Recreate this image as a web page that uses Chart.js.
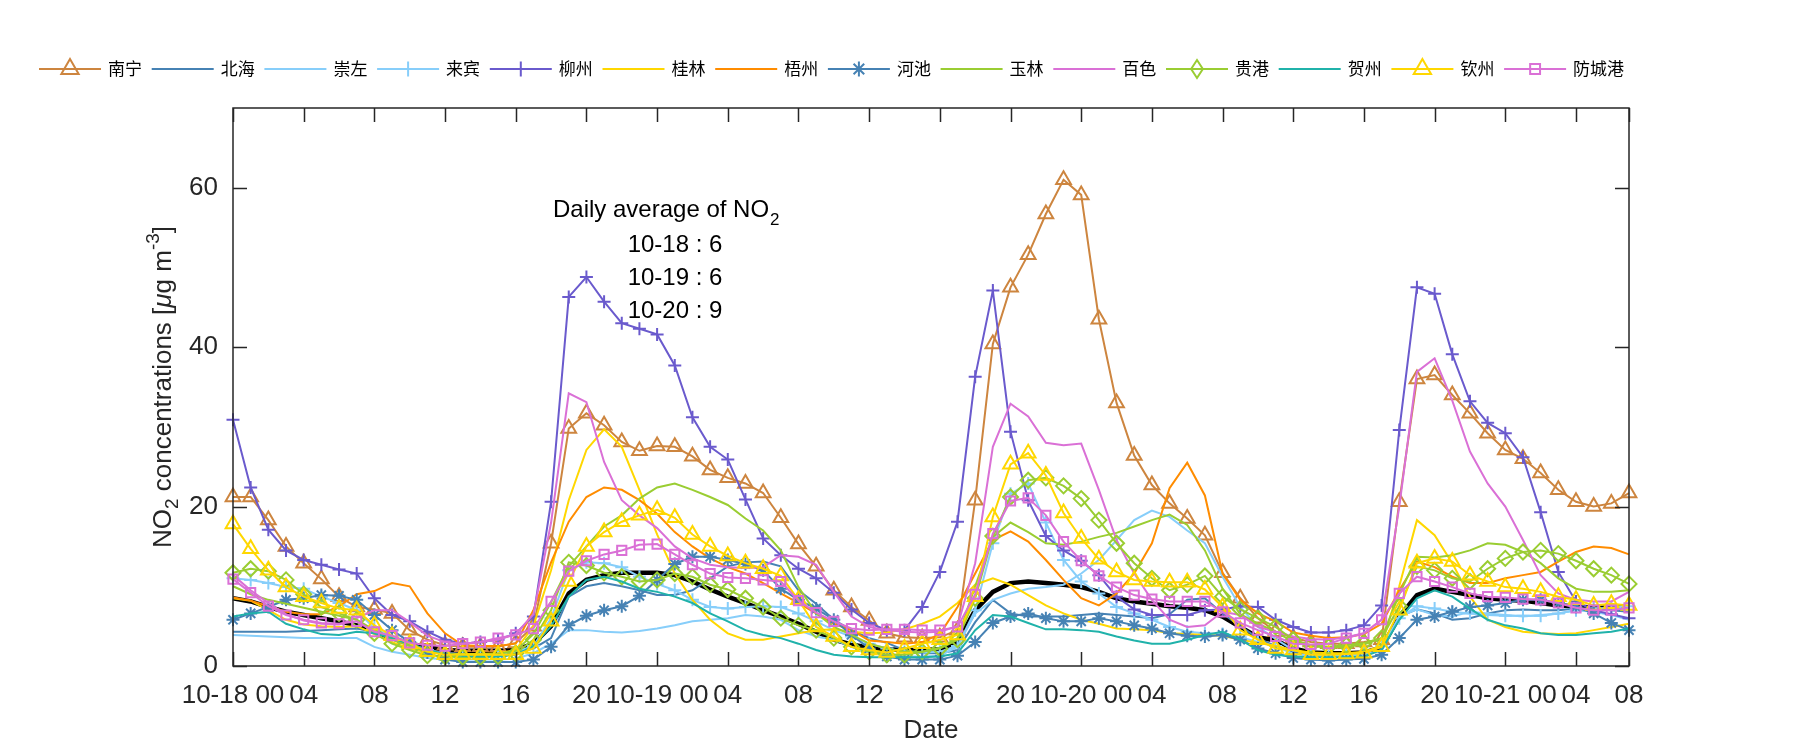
<!DOCTYPE html>
<html>
<head>
<meta charset="utf-8">
<script src="https://cdn.jsdelivr.net/npm/chart.js@4.4.1/dist/chart.umd.min.js"></script>
<style>
html,body{margin:0;padding:0;background:#ffffff;}
#wrap{width:1800px;height:750px;position:relative;}
</style>
</head>
<body>
<div id="wrap"><canvas id="c" width="1800" height="750"></canvas></div>
<script>
// ---------- data ----------
const hours = [0,1,2,3,4,5,6,7,8,9,10,11,12,13,14,15,16,17,18,19,20,21,22,23,24,25,26,27,28,29,30,31,32,33,34,35,36,37,38,39,40,41,42,43,44,45,46,47,48,49,50,51,52,53,54,55,56,57,58,59,60,61,62,63,64,65,66,67,68,69,70,71,72,73,74,75,76,77,78,79];
const tickHours = [0,4,8,12,16,20,24,28,32,36,40,44,48,52,56,60,64,68,72,76,79];
const tickLabels = ['10-18 00','04','08','12','16','20','10-19 00','04','08','12','16','20','10-20 00','04','08','12','16','20','10-21 00','04','08'];
const yTicks = [0,20,40,60];
const cityNames = ['南宁','北海','崇左','来宾','柳州','桂林','梧州','河池','玉林','百色','贵港','贺州','钦州','防城港'];

const nanning = [21.2,21.2,18.3,15.0,12.9,10.9,8.7,7.4,7.1,6.6,4.5,3.3,2.6,2.4,2.4,2.4,2.9,5.0,15.4,29.8,31.7,30.2,28.1,27.0,27.6,27.5,26.3,24.6,23.6,22.9,21.7,18.6,15.3,12.5,9.5,7.4,5.7,4.1,3.6,3.5,3.6,4.5,20.8,40.4,47.5,51.6,56.7,61.0,59.1,43.5,33.0,26.4,22.7,20.4,18.5,16.4,11.7,8.5,6.0,4.3,3.5,3.0,2.8,2.8,3.0,3.3,20.6,36.0,36.5,34.0,31.7,29.2,27.1,26.0,24.2,22.1,20.6,20.0,20.4,21.7];
const beihai = [4.3,4.3,4.3,4.3,4.4,4.5,4.6,4.7,4.3,3.5,2.6,2.0,1.6,1.5,1.5,1.5,1.7,2.2,3.5,8.7,10.0,10.4,10.0,9.5,8.9,8.9,9.5,11.0,12.5,13.0,13.1,12.5,9.5,7.8,5.8,4.5,3.5,2.9,2.0,1.6,1.6,2.0,5.5,8.3,6.6,6.2,6.2,6.2,6.4,6.6,6.4,6.2,6.0,6.5,8.3,8.5,6.6,5.0,3.5,2.5,1.8,1.5,1.5,1.5,1.7,2.5,6.2,7.1,6.6,5.8,6.0,6.6,7.0,7.1,7.0,7.0,7.2,7.2,7.0,6.8];
const chongzuo = [3.9,3.8,3.7,3.6,3.5,3.5,3.5,3.5,2.4,1.8,1.4,1.0,0.8,0.8,0.8,0.8,0.9,1.6,2.8,4.5,4.5,4.3,4.2,4.4,4.7,5.1,5.6,5.8,6.0,6.4,6.2,5.8,4.5,3.7,3.3,2.4,1.7,1.3,1.2,1.2,1.3,2.4,6.6,8.3,9.1,9.7,9.9,10.2,11.6,13.3,15.8,18.3,19.5,18.7,17.0,15.4,11.2,7.4,4.9,3.4,2.0,1.5,1.3,1.3,1.4,2.0,6.2,7.1,6.4,6.2,6.8,6.6,6.4,6.2,6.4,6.6,7.0,6.8,6.4,5.8];
const laibin = [11.0,10.8,10.4,9.9,9.7,8.7,7.9,7.0,4.7,3.7,2.8,2.0,1.5,1.4,1.4,1.5,1.8,2.5,6.0,12.0,13.0,12.9,12.4,11.2,10.3,9.5,8.3,7.4,7.2,7.4,7.5,7.4,6.6,5.6,4.5,3.7,2.8,2.2,1.8,1.7,1.8,2.5,7.0,15.4,21.6,22.9,18.0,13.3,10.6,9.1,7.4,6.6,5.8,4.9,4.3,4.1,4.0,3.6,3.0,2.5,1.5,1.3,1.3,1.4,1.6,2.5,6.0,7.5,7.2,6.8,6.6,6.4,6.3,6.3,6.3,6.6,7.0,7.2,7.3,7.5];
const liuzhou = [30.9,22.4,17.1,14.5,13.3,12.7,12.1,11.6,8.5,6.4,5.6,4.3,3.3,2.8,3.0,3.3,4.1,6.2,20.6,46.3,48.8,45.7,43.0,42.3,41.6,37.7,31.2,27.5,25.9,20.9,16.0,13.9,12.2,11.0,9.2,7.1,5.4,4.5,4.5,7.4,11.8,18.1,36.3,47.1,29.4,20.8,16.3,14.5,13.2,11.4,8.7,7.1,6.4,6.4,6.4,7.0,7.1,7.5,7.4,5.8,4.9,4.2,4.2,4.5,5.1,7.6,29.6,47.5,46.7,39.1,33.2,30.5,29.2,26.2,19.3,11.8,8.1,7.0,6.5,6.0];
const guilin = [8.5,8.2,7.0,5.8,5.2,5.0,4.9,5.0,4.0,3.0,2.2,1.7,1.5,1.5,1.5,1.6,2.0,5.0,12.0,20.8,27.1,29.7,27.5,22.1,16.5,11.6,8.3,5.8,4.1,3.3,3.3,3.7,4.1,4.5,4.6,4.3,4.1,4.2,4.6,5.3,6.2,7.9,10.2,11.0,10.2,8.9,7.6,6.6,5.8,5.3,4.7,4.6,4.5,4.1,4.0,3.9,3.8,3.3,2.9,2.5,2.0,1.7,1.6,1.6,1.8,2.5,10.0,18.3,16.4,12.9,8.7,5.8,4.9,4.3,4.1,4.0,4.1,4.5,4.9,5.3];
const wuzhou = [8.6,8.2,7.5,6.8,6.5,6.5,7.5,9.0,9.4,10.4,10.0,6.6,4.1,2.6,2.5,2.5,2.8,7.0,13.0,18.1,21.2,22.4,22.1,20.8,19.1,16.8,15.0,13.5,12.4,11.6,10.4,9.1,7.9,6.6,5.3,4.5,3.2,3.0,2.8,3.0,4.0,7.4,11.6,15.8,16.9,15.6,13.3,10.8,8.5,7.6,9.1,11.6,15.4,22.3,25.5,21.4,11.6,8.3,6.6,5.6,4.2,3.8,3.5,3.6,4.0,5.3,9.5,13.1,12.4,11.2,10.4,10.4,11.0,11.4,11.8,13.1,14.3,15.0,14.8,14.0];
const hechi = [5.8,6.6,7.4,8.3,8.5,8.9,8.8,8.3,6.4,4.5,3.0,1.7,0.8,0.5,0.5,0.5,0.5,0.8,2.4,5.1,6.3,7.0,7.5,8.8,10.8,12.8,13.7,13.7,13.3,12.8,12.0,9.7,8.3,7.2,5.8,3.9,2.2,1.2,0.8,0.8,0.8,1.3,3.0,5.4,6.2,6.6,6.0,5.6,5.6,6.0,5.6,5.1,4.7,4.1,3.8,3.7,3.9,3.3,2.2,1.6,1.0,0.8,0.7,0.8,0.9,1.4,3.5,5.8,6.2,6.8,7.4,7.6,7.9,8.3,8.3,7.9,7.4,6.6,5.4,4.5];
const yulin = [10.0,9.0,8.3,7.8,7.3,6.8,6.3,5.8,4.5,3.3,2.5,1.8,1.5,1.4,1.4,1.5,1.9,4.0,8.0,12.5,15.0,17.5,18.9,21.0,22.4,22.9,22.1,21.2,20.2,18.5,17.0,14.5,9.9,6.6,4.9,3.9,2.8,2.2,1.8,1.8,2.3,3.5,10.0,16.2,18.0,16.8,15.4,15.2,15.6,16.2,16.7,17.5,18.3,19.0,17.7,14.5,9.7,6.5,5.3,4.3,3.0,2.5,2.3,2.4,2.7,3.5,9.0,13.7,13.6,13.9,14.5,15.4,15.2,14.3,12.9,11.0,9.7,9.3,9.3,9.5];
const baise = [11.4,9.5,7.9,6.5,5.7,5.3,5.2,6.0,7.0,7.0,5.5,3.8,3.0,2.8,3.0,3.3,4.0,6.5,18.0,34.2,33.1,25.6,20.8,18.9,17.3,15.0,13.5,12.7,12.4,12.3,12.4,13.9,13.7,12.7,9.3,6.2,4.9,4.5,4.3,4.2,4.3,5.0,12.9,27.5,32.9,31.3,28.0,27.7,27.9,22.1,15.8,11.6,8.3,5.8,4.9,5.1,6.8,6.4,4.9,4.3,3.7,3.4,3.3,3.6,4.1,5.8,20.0,36.9,38.6,33.3,26.9,22.9,20.0,15.8,11.4,9.1,8.3,8.1,8.1,9.3];
const guigang = [11.7,12.2,11.9,10.8,9.0,7.4,6.6,5.8,4.1,2.8,2.0,1.3,1.2,1.1,1.1,1.2,1.6,3.3,7.0,13.0,12.6,11.7,11.2,10.6,10.8,11.6,11.2,10.2,9.6,8.5,7.4,6.0,5.1,4.5,3.5,2.4,1.8,1.4,1.4,1.8,2.2,3.3,8.5,16.3,21.2,23.3,23.6,22.6,21.0,18.3,15.4,12.9,11.0,9.5,10.2,11.3,8.7,7.1,6.0,4.9,3.3,2.6,2.4,2.6,2.9,3.5,7.5,12.5,12.0,11.0,10.6,12.2,13.5,14.3,14.5,14.1,13.2,12.2,11.4,10.3];
const hezhou = [6.2,6.6,6.8,5.3,4.6,4.0,3.9,4.3,4.1,3.5,2.8,2.0,1.5,1.3,1.2,1.2,1.4,2.5,5.0,8.7,10.8,11.2,10.6,9.7,9.3,8.7,7.9,6.6,5.6,4.5,3.9,3.5,2.8,2.0,1.4,1.2,1.1,1.1,1.1,1.1,1.2,1.6,4.5,6.4,6.2,5.4,4.6,4.6,4.5,4.3,3.7,3.2,2.8,2.8,3.3,3.9,4.3,3.3,2.0,1.4,1.2,1.1,1.1,1.1,1.2,2.0,5.8,8.5,9.5,8.7,7.2,5.8,5.1,4.7,4.1,3.9,3.9,4.1,4.3,4.7];
const qinzhou = [17.8,14.7,12.0,9.9,8.7,7.9,7.2,7.0,5.1,3.8,2.8,1.8,1.4,1.4,1.4,1.4,1.4,2.2,5.6,10.6,15.0,16.8,18.1,18.9,19.6,18.6,16.5,15.0,13.8,12.9,12.2,11.3,8.3,4.9,3.7,2.4,2.0,1.7,2.2,2.8,3.3,3.9,8.7,18.7,25.3,26.7,23.9,19.2,16.0,13.4,11.8,10.8,10.6,10.5,10.5,9.6,7.4,4.5,3.3,2.2,2.0,1.4,1.4,1.5,1.6,2.4,7.0,12.9,13.5,13.1,11.4,10.6,9.9,9.7,9.3,8.7,8.3,7.6,7.8,7.6];
const fangchenggang = [10.9,9.2,7.5,6.4,5.8,5.4,5.3,5.6,4.3,3.8,2.9,2.6,2.5,2.8,3.0,3.5,3.9,4.7,8.1,11.9,13.2,14.0,14.5,15.2,15.3,14.0,12.7,11.6,11.1,11.0,10.8,10.6,8.2,6.7,5.6,4.7,4.5,4.6,4.6,4.5,4.5,4.9,9.0,16.6,20.7,21.1,18.9,15.6,13.2,11.3,9.9,8.9,8.4,8.1,8.1,8.1,6.8,5.4,4.5,3.7,2.8,2.7,2.8,3.5,4.1,5.8,9.1,11.2,10.6,9.9,9.1,8.7,8.6,8.4,8.3,7.9,7.3,7.0,7.0,7.3];
const average = [8.5,8.1,7.4,6.8,6.4,6.0,5.6,5.1,4.3,3.5,2.8,2.4,2.0,1.9,1.9,1.9,2.0,2.8,5.0,9.1,10.8,11.4,11.7,11.7,11.7,11.4,10.6,9.6,8.7,7.9,7.0,6.2,5.3,4.3,3.3,2.7,2.3,2.1,2.0,2.0,2.1,3.0,7.0,9.3,10.4,10.6,10.4,10.2,9.9,9.3,8.5,8.1,7.8,7.5,7.3,7.0,6.2,4.9,3.6,3.2,2.2,1.7,1.6,1.6,1.7,2.3,6.2,8.9,9.7,9.3,8.9,8.5,8.3,8.2,7.9,7.6,7.5,7.3,7.3,7.3];
const annotationLines = ['10-18 : 6','10-19 : 6','10-20 : 9'];

// ---------- styles ----------
const seriesValues = [nanning,beihai,chongzuo,laibin,liuzhou,guilin,wuzhou,hechi,yulin,baise,guigang,hezhou,qinzhou,fangchenggang];
const seriesColors = ['#CD853F','#4682B4','#87CEFA','#87CEFA','#6A5ACD','#FFD700','#FF8C00','#4682B4','#9ACD32','#DA70D6','#9ACD32','#20B2AA','#FFD700','#DA70D6'];
const seriesMarkers = ['triangle',null,null,'cross','cross',null,null,'star',null,null,'rectRot',null,'triangle','rect'];
const markerRadius = {triangle:8.5, cross:6.5, star:6.5, rectRot:7.5, rect:6.5};
const legendRadius = {triangle:10, cross:7.5, star:7.5, rectRot:9, rect:7};

const FONT = '"Liberation Sans", Arial, Helvetica, sans-serif';
const CJK = '"Noto Sans CJK SC", "Noto Sans", sans-serif';
const AX = '#262626';
const L = 233, R = 1629, T = 108, B = 666;

const datasets = seriesValues.map((vals, i) => {
  const m = seriesMarkers[i];
  return {
    label: cityNames[i],
    data: vals,
    borderColor: seriesColors[i],
    backgroundColor: seriesColors[i],
    borderWidth: 2,
    pointStyle: m || 'circle',
    pointRadius: m ? markerRadius[m] : 0,
    pointHoverRadius: m ? markerRadius[m] : 0,
    pointBorderColor: seriesColors[i],
    pointBackgroundColor: 'rgba(0,0,0,0)',
    pointBorderWidth: 2,
    tension: 0,
    fill: false,
    clip: false,
    order: 14 - i
  };
});
datasets.push({
  label: 'average',
  data: average,
  borderColor: '#000000',
  backgroundColor: '#000000',
  borderWidth: 4.5,
  pointRadius: 0,
  tension: 0,
  fill: false,
  clip: false,
  order: 100
});

function drawMarker(ctx, style, x, y, r) {
  ctx.beginPath();
  if (style === 'triangle') {
    ctx.moveTo(x, y - r);
    ctx.lineTo(x + r * Math.sin(2*Math.PI/3), y - r * Math.cos(2*Math.PI/3));
    ctx.lineTo(x + r * Math.sin(4*Math.PI/3), y - r * Math.cos(4*Math.PI/3));
    ctx.closePath();
  } else if (style === 'cross' || style === 'star') {
    ctx.moveTo(x, y - r); ctx.lineTo(x, y + r);
    ctx.moveTo(x - r, y); ctx.lineTo(x + r, y);
    if (style === 'star') {
      const d = r * Math.SQRT1_2;
      ctx.moveTo(x - d, y - d); ctx.lineTo(x + d, y + d);
      ctx.moveTo(x + d, y - d); ctx.lineTo(x - d, y + d);
    }
  } else if (style === 'rectRot') {
    ctx.moveTo(x - r * 0.65, y); ctx.lineTo(x, y - r); ctx.lineTo(x + r * 0.65, y); ctx.lineTo(x, y + r);
    ctx.closePath();
  } else if (style === 'rect') {
    const s = r * Math.SQRT1_2;
    ctx.rect(x - s, y - s, 2 * s, 2 * s);
  }
  ctx.stroke();
}

const decorPlugin = {
  id: 'decor',
  afterDatasetsDraw(chart) {
    const ctx = chart.ctx;
    const xs = chart.scales.x, ys = chart.scales.y;
    const a = chart.chartArea;
    ctx.save();
    ctx.strokeStyle = AX;
    ctx.lineWidth = 1.5;
    ctx.strokeRect(a.left, a.top, a.right - a.left, a.bottom - a.top);
    ctx.beginPath();
    tickHours.forEach(h => {
      const px = Math.round(xs.getPixelForValue(h)) + 0.5;
      ctx.moveTo(px, a.bottom); ctx.lineTo(px, a.bottom - 14);
      ctx.moveTo(px, a.top); ctx.lineTo(px, a.top + 14);
    });
    yTicks.forEach(v => {
      const py = Math.round(ys.getPixelForValue(v)) + 0.5;
      ctx.moveTo(a.left, py); ctx.lineTo(a.left + 14, py);
      ctx.moveTo(a.right, py); ctx.lineTo(a.right - 14, py);
    });
    ctx.stroke();
    ctx.restore();
  },
  afterDraw(chart) {
    const ctx = chart.ctx;
    const a = chart.chartArea;
    ctx.save();
    // legend
    const y0 = 69;
    cityNames.forEach((name, i) => {
      const x0 = 39 + i * 112.7;
      ctx.strokeStyle = seriesColors[i];
      ctx.lineWidth = 2;
      ctx.beginPath(); ctx.moveTo(x0, y0); ctx.lineTo(x0 + 62, y0); ctx.stroke();
      const m = seriesMarkers[i];
      if (m) drawMarker(ctx, m, x0 + 31, y0, legendRadius[m]);
      ctx.fillStyle = '#000';
      ctx.font = '17px ' + CJK;
      ctx.textAlign = 'left';
      ctx.textBaseline = 'middle';
      ctx.fillText(name, x0 + 69, y0);
    });
    // annotation
    ctx.fillStyle = '#000';
    ctx.textBaseline = 'middle';
    ctx.textAlign = 'left';
    ctx.font = '24px ' + FONT;
    const head = 'Daily average of NO';
    ctx.fillText(head, 553, 210);
    const hw = ctx.measureText(head).width;
    ctx.font = '17px ' + FONT;
    ctx.fillText('2', 553 + hw + 1, 220);
    ctx.font = '24px ' + FONT;
    ctx.textAlign = 'center';
    annotationLines.forEach((t, k) => ctx.fillText(t, 675, 245 + k * 33));
    // x title
    ctx.fillStyle = AX;
    ctx.font = '26px ' + FONT;
    ctx.textAlign = 'center';
    ctx.fillText('Date', (a.left + a.right) / 2, 731);
    // y title with sub/superscripts
    ctx.translate(164, (a.top + a.bottom) / 2);
    ctx.rotate(-Math.PI / 2);
    const F = 26;
    const parts = [
      {t: 'NO', f: F + 'px ' + FONT, dy: 0},
      {t: '2', f: Math.round(F * 0.72) + 'px ' + FONT, dy: 9},
      {t: ' concentrations [', f: F + 'px ' + FONT, dy: 0},
      {t: 'μ', f: 'italic ' + F + 'px ' + FONT, dy: 0},
      {t: 'g m', f: F + 'px ' + FONT, dy: 0},
      {t: '-3', f: Math.round(F * 0.72) + 'px ' + FONT, dy: -10},
      {t: ']', f: F + 'px ' + FONT, dy: 0}
    ];
    let total = 0;
    parts.forEach(p => { ctx.font = p.f; p.w = ctx.measureText(p.t).width; total += p.w; });
    let cx = -total / 2;
    ctx.textAlign = 'left';
    ctx.textBaseline = 'middle';
    parts.forEach(p => { ctx.font = p.f; ctx.fillText(p.t, cx, p.dy); cx += p.w; });
    ctx.restore();
  }
};

new Chart(document.getElementById('c'), {
  type: 'line',
  data: { labels: hours, datasets: datasets },
  options: {
    responsive: false,
    animation: false,
    devicePixelRatio: 1,
    layout: { padding: { left: 0, right: 1800 - R, top: T, bottom: 0 } },
    plugins: { legend: { display: false }, tooltip: { enabled: false }, title: { display: false } },
    elements: { line: { tension: 0 } },
    scales: {
      x: {
        type: 'category',
        offset: false,
        grid: { display: false, drawTicks: false },
        border: { display: false },
        afterFit: s => { s.height = 750 - B; },
        ticks: {
          autoSkip: false, maxRotation: 0, minRotation: 0, padding: 14,
          color: AX, font: { family: FONT, size: 26 },
          callback: (v, i) => { const k = tickHours.indexOf(i); return k >= 0 ? tickLabels[k] : null; }
        }
      },
      y: {
        type: 'linear', min: 0, max: 70,
        grid: { display: false, drawTicks: false },
        border: { display: false },
        afterFit: s => { s.width = L; },
        afterBuildTicks: s => { s.ticks = yTicks.map(v => ({ value: v })); },
        ticks: { padding: 15, color: AX, font: { family: FONT, size: 26 } }
      }
    }
  },
  plugins: [decorPlugin]
});
</script>
</body>
</html>
